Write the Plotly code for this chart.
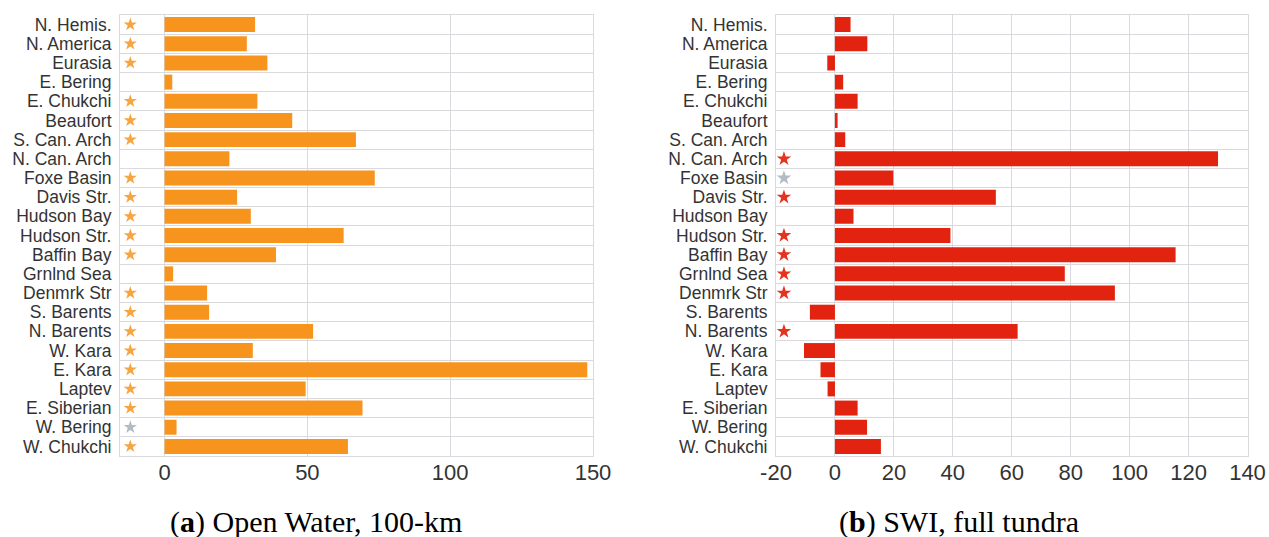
import plotly.graph_objects as go

regions = ["N. Hemis.", "N. America", "Eurasia", "E. Bering", "E. Chukchi", "Beaufort",
           "S. Can. Arch", "N. Can. Arch", "Foxe Basin", "Davis Str.", "Hudson Bay",
           "Hudson Str.", "Baffin Bay", "Grnlnd Sea", "Denmrk Str", "S. Barents",
           "N. Barents", "W. Kara", "E. Kara", "Laptev", "E. Siberian", "W. Bering",
           "W. Chukchi"]

open_water = [31.7, 28.8, 36.0, 2.7, 32.5, 44.7, 67.0, 22.7, 73.6, 25.4, 30.2,
              62.7, 39.0, 3.0, 14.9, 15.6, 52.0, 30.9, 148.0, 49.4, 69.3, 4.2, 64.2]
# significance: 1 = significant (coloured star), 2 = grey star, 0 = none
open_water_sig = [1, 1, 1, 0, 1, 1, 1, 0, 1, 1, 1, 1, 1, 0, 1, 1, 1, 1, 1, 1, 1, 2, 1]

swi = [5.3, 11.0, -2.6, 2.8, 7.7, 0.9, 3.5, 130.0, 19.8, 54.6, 6.3, 39.2, 115.6,
       78.0, 95.0, -8.5, 62.0, -10.5, -4.9, -2.5, 7.7, 10.9, 15.6]
swi_sig = [0, 0, 0, 0, 0, 0, 0, 1, 2, 1, 0, 1, 1, 1, 1, 0, 1, 0, 0, 0, 0, 0, 0]

left_ticks = [0, 50, 100, 150]
right_ticks = [-20, 0, 20, 40, 60, 80, 100, 120, 140]

ORANGE = "#F7941E"
ORANGE_STAR = "#F6A540"
RED = "#E2230F"
RED_STAR = "#E53320"
GREY_STAR = "#B4BBC2"
GRID = "#D9D9DE"
TXT = "#333333"

W, H = 1269, 537

def px(xs):
    return xs / W

def py(ys):
    return 1 - ys / H

n = len(regions)
ypos = list(range(n))

fig = go.Figure()

fig.add_trace(go.Bar(x=open_water, y=ypos, orientation="h", marker_color=ORANGE,
                     marker_line_width=0, xaxis="x", yaxis="y", showlegend=False))
fig.add_trace(go.Bar(x=swi, y=ypos, orientation="h", marker_color=RED,
                     marker_line_width=0, xaxis="x2", yaxis="y2", showlegend=False))

def star_trace(sig, xval, col, xa, ya, size):
    ys = [i for i, s in enumerate(sig) if s > 0]
    cols = [col if sig[i] == 1 else GREY_STAR for i in ys]
    return go.Scatter(x=[xval] * len(ys), y=ys, mode="markers",
                      marker=dict(symbol="star", size=size, color=cols, line_width=0),
                      xaxis=xa, yaxis=ya, showlegend=False)

fig.add_trace(star_trace(open_water_sig, -12, ORANGE_STAR, "x", "y", 10))
fig.add_trace(star_trace(swi_sig, -17.3, RED_STAR, "x2", "y2", 11))

ydom = [py(456), py(15)]
boundaries = [i + 0.5 for i in range(-1, n)]

yax_common = dict(range=[n - 0.5, -0.5], tickvals=ypos, ticktext=regions,
                  showgrid=False, zeroline=False, showline=True, mirror=True,
                  linecolor=GRID, linewidth=1, ticks="", ticklabelstandoff=4,
                  automargin=False,
                  tickfont=dict(family="Liberation Sans, Arial", size=17.5, color=TXT),
                  minor=dict(tickvals=boundaries, showgrid=True, gridcolor=GRID,
                             gridwidth=1, ticks=""),
                  domain=ydom, fixedrange=True)

xax_common = dict(showgrid=True, gridcolor=GRID, gridwidth=1, zeroline=False,
                  showline=True, mirror=True, linecolor=GRID, linewidth=1, ticks="",
                  automargin=False, ticklabelstandoff=-3,
                  tickfont=dict(family="Liberation Sans, Arial", size=22, color=TXT))

cap_font = dict(family="Liberation Serif, Times New Roman", size=30, color="black")

fig.update_layout(
    width=W, height=H,
    margin=dict(l=0, r=0, t=0, b=0, autoexpand=False),
    paper_bgcolor="white", plot_bgcolor="white",
    bargap=0.22,
    hovermode=False,
    xaxis=dict(xax_common, domain=[px(120), px(593)], range=[-15.6, 150],
               tickvals=left_ticks, ticktext=[str(v) for v in left_ticks], anchor="y"),
    yaxis=dict(yax_common, anchor="x"),
    xaxis2=dict(xax_common, domain=[px(776), px(1247.5)], range=[-20, 140],
                tickvals=right_ticks, ticktext=[str(v) for v in right_ticks], anchor="y2"),
    yaxis2=dict(yax_common, anchor="x2"),
    annotations=[
        dict(text="(<b>a</b>) Open Water, 100-km", x=px(316), y=py(522),
             xref="paper", yref="paper", showarrow=False, xanchor="center", yanchor="middle",
             font=cap_font),
        dict(text="(<b>b</b>) SWI, full tundra", x=px(959), y=py(522),
             xref="paper", yref="paper", showarrow=False, xanchor="center", yanchor="middle",
             font=cap_font),
    ],
)

fig.write_html("out.html", config={"displayModeBar": False},
               post_script="document.body.style.margin='0';document.body.style.overflow='hidden';")
